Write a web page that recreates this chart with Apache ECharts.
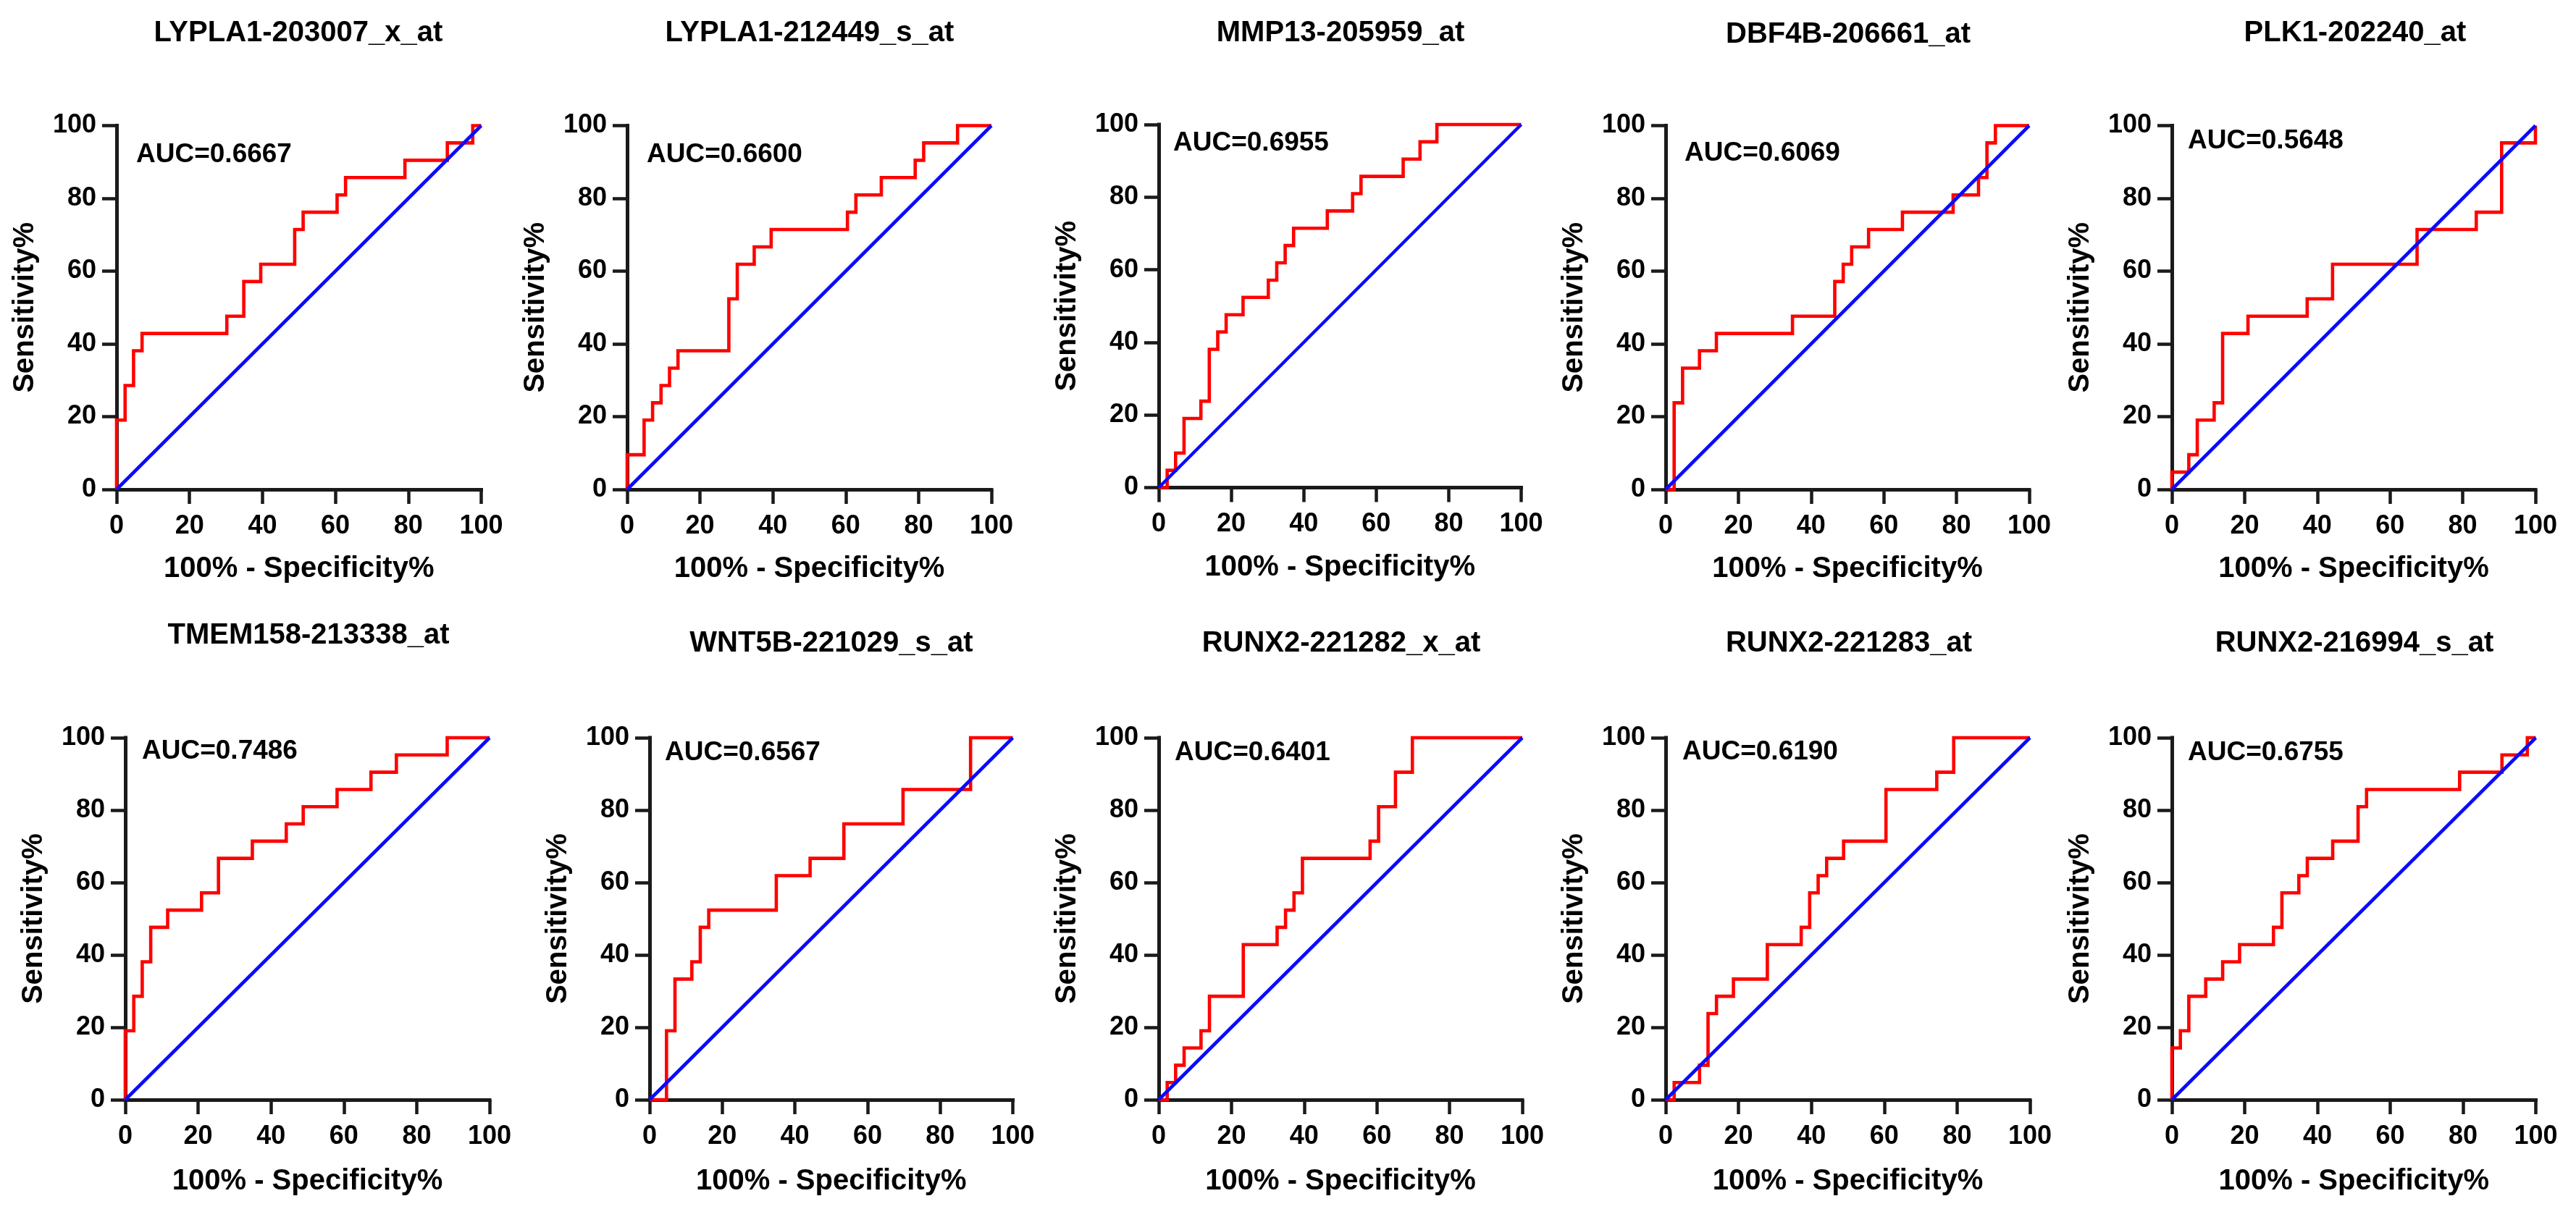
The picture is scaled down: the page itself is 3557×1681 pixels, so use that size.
<!DOCTYPE html>
<html>
<head>
<meta charset="utf-8">
<script src="https://cdn.jsdelivr.net/npm/echarts/dist/echarts.min.js"></script>
<style>
html,body{margin:0;padding:0;background:#ffffff;}
#chart{width:3557px;height:1681px;}
</style>
</head>
<body>
<div id="chart"></div>
<script>
// ---------- data ----------
const titles = [
  'LYPLA1-203007_x_at', 'LYPLA1-212449_s_at', 'MMP13-205959_at', 'DBF4B-206661_at', 'PLK1-202240_at',
  'TMEM158-213338_at', 'WNT5B-221029_s_at', 'RUNX2-221282_x_at', 'RUNX2-221283_at', 'RUNX2-216994_s_at'
];
const aucValues = ['0.6667', '0.6600', '0.6955', '0.6069', '0.5648', '0.7486', '0.6567', '0.6401', '0.6190', '0.6755'];
const tickValues = [0, 20, 40, 60, 80, 100];
const xAxisName = '100% - Specificity%';
const yAxisName = 'Sensitivity%';

// ROC steps: at fpr[i] (100% - Specificity%) the curve rises to tpr[i] (Sensitivity%)
const fpr1 = [0, 2.33, 4.65, 6.98, 30.23, 34.88, 39.53, 48.84, 51.16, 60.47, 62.79, 79.07, 90.70, 97.67, 100];
const tpr1 = [19.05, 28.57, 38.10, 42.86, 47.62, 57.14, 61.90, 71.43, 76.19, 80.95, 85.71, 90.48, 95.24, 100, 100];

const fpr2 = [0, 4.65, 6.98, 9.30, 11.63, 13.95, 27.91, 30.23, 34.88, 39.53, 60.47, 62.79, 69.77, 79.07, 81.40, 90.70, 100];
const tpr2 = [9.52, 19.05, 23.81, 28.57, 33.33, 38.10, 52.38, 61.90, 66.67, 71.43, 76.19, 80.95, 85.71, 90.48, 95.24, 100, 100];

const fpr3 = [2.33, 4.65, 6.98, 11.63, 13.95, 16.28, 18.60, 23.26, 30.23, 32.56, 34.88, 37.21, 46.51, 53.49, 55.81, 67.44, 72.09, 76.74, 100];
const tpr3 = [4.76, 9.52, 19.05, 23.81, 38.10, 42.86, 47.62, 52.38, 57.14, 61.90, 66.67, 71.43, 76.19, 80.95, 85.71, 90.48, 95.24, 100, 100];

const fpr4 = [2.33, 4.65, 9.30, 13.95, 34.88, 46.51, 48.84, 51.16, 55.81, 65.12, 79.07, 86.05, 88.37, 90.70, 100];
const tpr4 = [23.81, 33.33, 38.10, 42.86, 47.62, 57.14, 61.90, 66.67, 71.43, 76.19, 80.95, 85.71, 95.24, 100, 100];

const fpr5 = [0, 4.65, 6.98, 11.63, 13.95, 20.93, 37.21, 44.19, 67.44, 83.72, 90.70, 100];
const tpr5 = [4.76, 9.52, 19.05, 23.81, 42.86, 47.62, 52.38, 61.90, 71.43, 76.19, 95.24, 100];

const fpr6 = [0, 2.33, 4.65, 6.98, 11.63, 20.93, 25.58, 34.88, 44.19, 48.84, 58.14, 67.44, 74.42, 88.37, 100];
const tpr6 = [19.05, 28.57, 38.10, 47.62, 52.38, 57.14, 66.67, 71.43, 76.19, 80.95, 85.71, 90.48, 95.24, 100, 100];

const fpr7 = [4.65, 6.98, 11.63, 13.95, 16.28, 34.88, 44.19, 53.49, 69.77, 88.37, 100];
const tpr7 = [19.05, 33.33, 38.10, 47.62, 52.38, 61.90, 66.67, 76.19, 85.71, 100, 100];

const fpr8 = [2.33, 4.65, 6.98, 11.63, 13.95, 23.26, 32.56, 34.88, 37.21, 39.53, 58.14, 60.47, 65.12, 69.77, 100];
const tpr8 = [4.76, 9.52, 14.29, 19.05, 28.57, 42.86, 47.62, 52.38, 57.14, 66.67, 71.43, 80.95, 90.48, 100, 100];

const fpr9 = [2.33, 9.30, 11.63, 13.95, 18.60, 27.91, 37.21, 39.53, 41.86, 44.19, 48.84, 60.47, 74.42, 79.07, 100];
const tpr9 = [4.76, 9.52, 23.81, 28.57, 33.33, 42.86, 47.62, 57.14, 61.90, 66.67, 71.43, 85.71, 90.48, 100, 100];

const fpr10 = [0, 2.33, 4.65, 9.30, 13.95, 18.60, 27.91, 30.23, 34.88, 37.21, 44.19, 51.16, 53.49, 79.07, 90.70, 97.67, 100];
const tpr10 = [14.29, 19.05, 28.57, 33.33, 38.10, 42.86, 47.62, 57.14, 61.90, 66.67, 71.43, 80.95, 85.71, 90.48, 95.24, 100, 100];

const refX = [0, 100];
const refY = [0, 100];

const fprs = [fpr1, fpr2, fpr3, fpr4, fpr5, fpr6, fpr7, fpr8, fpr9, fpr10];
const tprs = [tpr1, tpr2, tpr3, tpr4, tpr5, tpr6, tpr7, tpr8, tpr9, tpr10];

// ---------- layout (pixels) ----------
const gridBoxes = [
  [161, 173.5, 503.5, 502.5], [866, 173.5, 503, 502.5], [1600, 172, 500.5, 501.5], [2300, 173.5, 502, 502.5], [2999, 173.5, 502, 502.5],
  [173, 1019, 503, 500], [897, 1019, 501.5, 500], [1600, 1019, 502, 500], [2300, 1019, 503, 500], [2999, 1019, 502.5, 500]
];
const titlePos = [[412, 46], [1118, 46], [1851, 46], [2552, 48], [3252, 46], [426, 878], [1148, 889], [1852, 889], [2553, 889], [3251, 889]];
const aucPos = [[188, 214], [893, 214], [1620, 198], [2326, 212], [3021, 195], [196, 1038], [918, 1040], [1622, 1040], [2323, 1039], [3021, 1040]];

const FONT = '"Liberation Sans", Arial, Helvetica, sans-serif';
const BLACK = '#000000';
const AXIS = '#1a1a1a';

function stepPoints(fx, ty) {
  const pts = [[0, 0]];
  let prev = 0;
  for (let i = 0; i < fx.length; i++) {
    pts.push([fx[i], prev]);
    pts.push([fx[i], ty[i]]);
    prev = ty[i];
  }
  return pts;
}

const grid = [], xAxis = [], yAxis = [], series = [], graphic = [];
for (let i = 0; i < 10; i++) {
  const g = gridBoxes[i];
  const topRow = i < 5;
  grid.push({ left: g[0], top: g[1], width: g[2], height: g[3], containLabel: false });
  const common = {
    type: 'value', gridIndex: i,
    min: tickValues[0], max: tickValues[tickValues.length - 1], interval: tickValues[1] - tickValues[0],
    nameLocation: 'middle',
    nameTextStyle: { fontFamily: FONT, fontWeight: 'bold', fontSize: 40, color: BLACK },
    axisLine: { show: true, onZero: false, lineStyle: { color: AXIS, width: 5, cap: 'square' } },
    axisTick: { show: true, length: 20, lineStyle: { color: AXIS, width: 4.5 } },
    axisLabel: { fontFamily: FONT, fontWeight: 'bold', fontSize: 36, color: BLACK },
    splitLine: { show: false }
  };
  xAxis.push(Object.assign({}, common, {
    name: xAxisName, nameGap: topRow ? 90 : 93,
    axisLabel: Object.assign({}, common.axisLabel, { margin: 33 })
  }));
  yAxis.push(Object.assign({}, common, {
    name: yAxisName, nameGap: 106,
    axisLabel: Object.assign({}, common.axisLabel, { margin: 28 })
  }));
  series.push({
    type: 'line', xAxisIndex: i, yAxisIndex: i,
    data: stepPoints(fprs[i], tprs[i]),
    showSymbol: false, symbol: 'none', clip: false, z: 3,
    lineStyle: { color: '#ff0000', width: 4.6, join: 'miter' }
  });
  series.push({
    type: 'line', xAxisIndex: i, yAxisIndex: i,
    data: refX.map((v, k) => [v, refY[k]]),
    showSymbol: false, symbol: 'none', clip: false, z: 4,
    lineStyle: { color: '#0a0aff', width: 4.6 }
  });
  graphic.push({
    type: 'text', x: titlePos[i][0], y: titlePos[i][1],
    style: { text: titles[i], font: 'bold 40px ' + FONT, fill: BLACK, textAlign: 'center', textVerticalAlign: 'middle' }
  });
  graphic.push({
    type: 'text', x: aucPos[i][0], y: aucPos[i][1],
    style: { text: 'AUC=' + aucValues[i], font: 'bold 37px ' + FONT, fill: BLACK, textAlign: 'left', textVerticalAlign: 'middle' }
  });
}

const chart = echarts.init(document.getElementById('chart'), null, { renderer: 'canvas' });
chart.setOption({
  backgroundColor: '#ffffff',
  animation: false,
  grid, xAxis, yAxis, series, graphic
});
</script>
</body>
</html>
